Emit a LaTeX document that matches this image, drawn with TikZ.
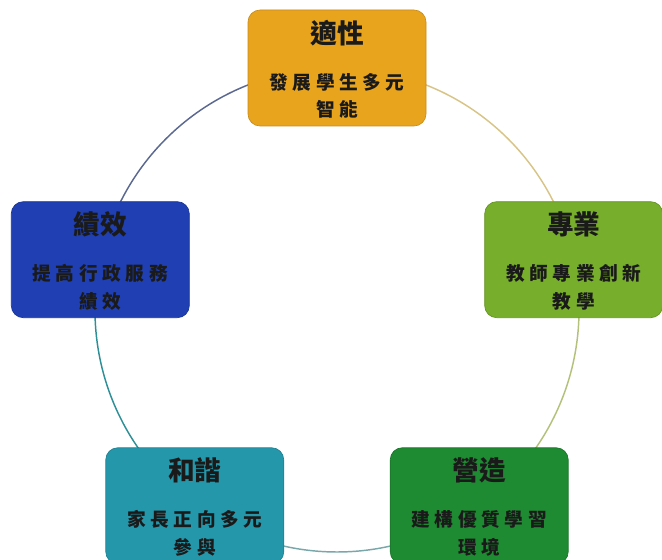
\documentclass[tikz,border=0pt]{standalone}
\usepackage{fontspec}
\newfontfamily\cjk{Noto Sans CJK TC}
\newfontfamily\cjksp[LetterSpace=25]{Noto Sans CJK TC}
\definecolor{cOrange}{HTML}{E9A41E}
\definecolor{cBlue}{HTML}{1F3FB2}
\definecolor{cLime}{HTML}{77AE2B}
\definecolor{cTeal}{HTML}{2497AB}
\definecolor{cGreen}{HTML}{1E8A32}
\definecolor{aTL}{HTML}{5B6890}
\definecolor{aTR}{HTML}{D8C486}
\definecolor{aR}{HTML}{B3C27A}
\definecolor{aL}{HTML}{2E8F96}
\definecolor{aB}{HTML}{7AA8AA}
\definecolor{txt}{HTML}{1A1A1A}
\pgfdeclarelayer{bg}
\pgfsetlayers{bg,main}
\newcommand{\ttl}[1]{\rule{0pt}{19pt}{\fontsize{20pt}{20pt}\selectfont\cjk\bfseries #1}}
\begin{document}
\begin{tikzpicture}[x=0.75pt,y=-0.75pt,
  box/.style={draw=#1!85!black, fill=#1, line width=0.5pt, rounded corners=9pt,
    minimum width=133.5pt, minimum height=87pt, inner sep=0pt, align=center,
    text=txt, font=\fontsize{14pt}{20.5pt}\selectfont\cjksp\bfseries},
  ring/.style={draw=#1, line width=1.1pt}]
\useasboundingbox (0,0) rectangle (662,560);
\coordinate (O) at (337,310);
\def\R{181.5pt}
\node[box=cOrange] (top) at ([shift={(90:\R)}]O)
  {\ttl{適性}\\[14pt]發展學生多元\\智能};
\node[box=cBlue] (left) at ([shift={(168:\R)}]O)
  {\ttl{績效}\\[14pt]提高行政服務\\績效};
\node[box=cLime] (right) at ([shift={(12:\R)}]O)
  {\ttl{專業}\\[14pt]教師專業創新\\教學};
\node[box=cTeal] (bl) at ([shift={(234:\R)}]O)
  {\ttl{和諧}\\[14pt]家長正向多元\\參與};
\node[box=cGreen] (br) at ([shift={(306:\R)}]O)
  {\ttl{營造}\\[14pt]建構優質學習\\環境};
\begin{pgfonlayer}{bg}
\draw[ring=aTL] (top.center) arc[start angle=90, end angle=168, radius=\R];
\draw[ring=aTR] (top.center) arc[start angle=90, end angle=12, radius=\R];
\draw[ring=aR] (right.center) arc[start angle=12, end angle=-54, radius=\R];
\draw[ring=aL] (left.center) arc[start angle=168, end angle=234, radius=\R];
\draw[ring=aB] (bl.center) arc[start angle=234, end angle=306, radius=\R];
\end{pgfonlayer}
\end{tikzpicture}
\end{document}
